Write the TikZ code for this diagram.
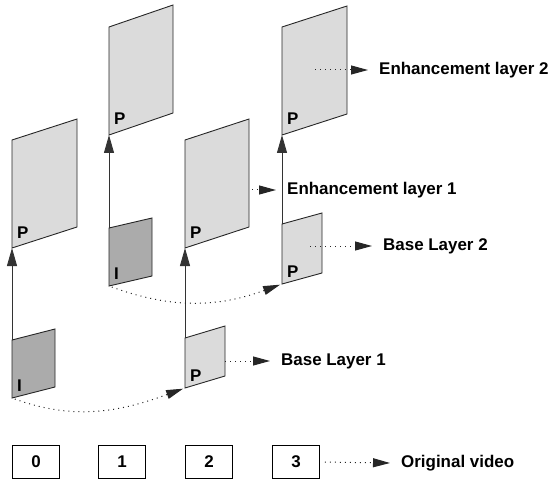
\documentclass[tikz,border=0pt]{standalone}
\usepackage{fontspec}
\setmainfont{Liberation Sans}
\usetikzlibrary{arrows.meta}
\usetikzlibrary{positioning}

\definecolor{paneLight}{gray}{0.86}
\definecolor{paneDark}{gray}{0.67}

\tikzset{
  pane/.style={draw=black!85, line width=0.9bp, line join=miter},
  lightpane/.style={pane, fill=paneLight},
  darkpane/.style={pane, fill=paneDark},
  paneletter/.style={font=\fontsize{17}{19}\selectfont\bfseries, inner sep=0pt, anchor=base west},
  uparrow/.style={draw=black!80, line width=0.9bp, -{Triangle[length=18bp,width=10bp]}},
  dotarrow/.style={draw=black!85, line width=1bp, dash pattern=on 1bp off 4bp,
    -{Triangle[length=17bp,width=9bp]}},
  layerlabel/.style={font=\fontsize{17}{20}\selectfont\bfseries, anchor=west,
    inner xsep=11bp, inner ysep=0pt},
  framebox/.style={draw, line width=0.9bp, minimum width=47bp, minimum height=33bp,
    font=\fontsize{17}{20}\selectfont\bfseries},
}

% #1 name, #2 style, #3 x, #4 y (bottom left), #5 width, #6 height, #7 rise, #8 letter
\newcommand{\pane}[8]{%
  \coordinate (#1-bl) at (#3,#4);
  \coordinate (#1-tl) at (#3,#4-#6);
  \draw[#2] (#1-bl) -- (#1-tl) -- ++(#5,-#7) -- ++(0,#6) -- cycle;
  \node[paneletter] (#1-lbl) at (#3+5,#4-3-#7/3) {#8};
}

\begin{document}
\begin{tikzpicture}[x=1bp, y=-1bp]
  \useasboundingbox (0,0) rectangle (554,494);

  % frames: base layer and enhancement layer
  \pane{f0b}{darkpane}{12}{398}{43}{58}{11}{I}
  \pane{f0e}{lightpane}{12}{248}{65}{108}{21}{P}
  \pane{f1b}{darkpane}{109}{286}{43}{58}{10}{I}
  \pane{f1e}{lightpane}{109}{135}{64}{108}{22}{P}
  \pane{f2b}{lightpane}{185}{388}{40}{50}{12}{P}
  \pane{f2e}{lightpane}{185}{248}{64}{108}{21}{P}
  \pane{f3b}{lightpane}{282}{284}{40}{60}{11}{P}
  \pane{f3e}{lightpane}{282}{135}{65}{108}{21}{P}

  % base -> enhancement
  \draw[uparrow] (f0b-tl) -- (f0e-bl);
  \draw[uparrow] (f1b-tl) -- (f1e-bl);
  \draw[uparrow] (f2b-tl) -- (f2e-bl);
  \draw[uparrow] (f3b-tl) -- (f3e-bl);

  % prediction between base frames
  \draw[dotarrow, shorten <=3bp, shorten >=2bp] (f0b-bl) to[out=-20, in=200] (f2b-bl);
  \draw[dotarrow, shorten <=3bp, shorten >=2bp] (f1b-bl) to[out=-20, in=200] (f3b-bl);

  % layer labels
  \coordinate (enh2-src) at (315,70);
  \node[layerlabel] (enh2) at (368,70) {Enhancement layer 2};
  \draw[dotarrow] (enh2-src) -- (enh2.west);

  \coordinate (enh1-src) at (252,190);
  \node[layerlabel] (enh1) at (276,190) {Enhancement layer 1};
  \draw[dotarrow] (enh1-src) -- (enh1.west);

  \coordinate (base2-src) at (310,246);
  \node[layerlabel] (base2) at (372,246) {Base Layer 2};
  \draw[dotarrow] (base2-src) -- (base2.west);

  \coordinate (base1-src) at (225,361);
  \node[layerlabel] (base1) at (270,361) {Base Layer 1};
  \draw[dotarrow] (base1-src) -- (base1.west);

  % original video
  \foreach \i/\x in {0/36,1/122,2/209,3/296}
    \node[framebox] (v\i) at (\x,462) {\i};
  \node[layerlabel] (orig) at (390,463) {Original video};
  \draw[dotarrow, shorten <=5bp] (v3.east) -- (orig.west);
\end{tikzpicture}
\end{document}
